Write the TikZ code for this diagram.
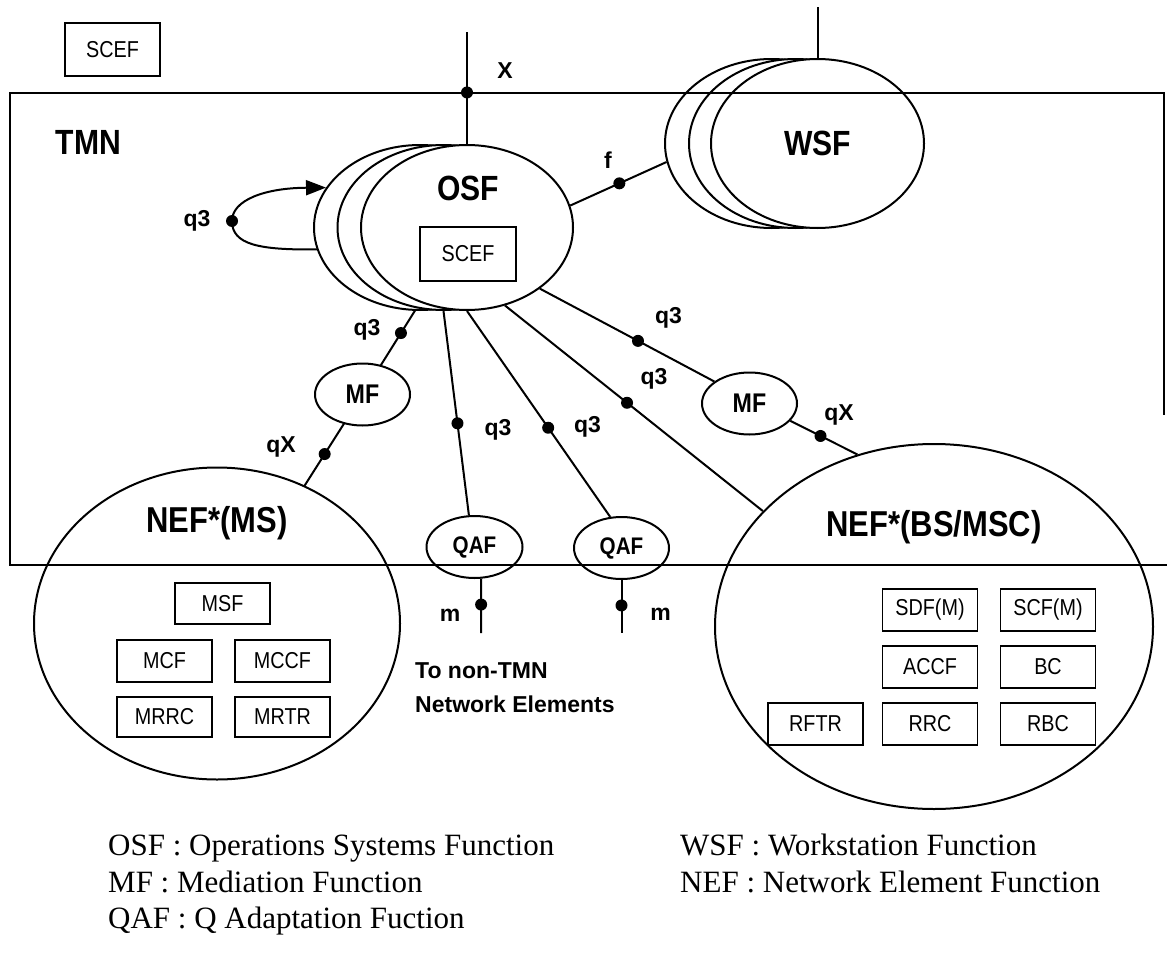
\documentclass[tikz,border=0pt]{standalone}
\usepackage{fontspec}
\setmainfont{Liberation Serif}
\newfontfamily\labfont[FakeStretch=0.86]{Liberation Sans}
\newfontfamily\labwide{Liberation Sans}
\usetikzlibrary{shapes.geometric,arrows.meta,backgrounds}
\tikzset{
  ln/.style={line width=2pt},
  oval/.style={ellipse, draw, line width=2pt, fill=white, inner sep=0pt},
  bigoval/.style={oval, minimum width=212pt, minimum height=165pt},
  wsfoval/.style={oval, minimum width=213pt, minimum height=169pt},
  smalloval/.style={oval, minimum width=95pt, minimum height=62pt},
  fbox/.style={draw, line width=1.6pt, fill=white, minimum width=95pt, minimum height=42pt, inner sep=0pt, font=\labfont\fontsize{23}{26}\selectfont},
  qdot/.style={circle, fill=black, inner sep=0pt, minimum size=12pt},
  lbl/.style={inner sep=0pt, font=\labwide\bfseries\fontsize{23}{26}\selectfont},
  bigfont/.style={font=\labfont\bfseries\fontsize{35}{40}\selectfont},
  nefont/.style={inner sep=0pt, font=\labfont\bfseries\fontsize{36}{40}\selectfont},
  midfont/.style={font=\labfont\bfseries\fontsize{27}{30}\selectfont},
  qafont/.style={font=\labfont\bfseries\fontsize{24}{28}\selectfont},
  legend/.style={inner sep=0pt, anchor=base west, font=\fontsize{31}{36}\selectfont},
}
\begin{document}
\begin{tikzpicture}[x=1pt, y=-1pt]
\useasboundingbox (0,0) rectangle (1167,953);

% outside SCEF
\node[fbox, minimum height=53pt] (scefout) at (112.5,49.5) {SCEF};

% OSF stack
\node[bigoval] (osf3) at (420,227.5) {};
\node[bigoval] (osf2) at (443.5,227.5) {};
\node[bigoval] (osf) at (467,227.5) {};
\node[bigfont, inner sep=0pt] (osflbl) at (468,188) {OSF};
\node[fbox, minimum width=96pt, minimum height=54pt] (scefin) at (468,254) {SCEF};

% WSF stack
\node[wsfoval] (wsf3) at (771.5,143.5) {};
\node[wsfoval] (wsf2) at (795.5,143.5) {};
\node[wsfoval, bigfont] (wsf) at (817.5,143.5) {WSF};

% MF, QAF
\node[smalloval, midfont] (mf1) at (362.5,394.5) {MF};
\node[smalloval, midfont] (mf2) at (749.5,403.5) {MF};
\node[smalloval, qafont, minimum width=96pt] (qaf1) at (474.5,547) {QAF};
\node[smalloval, qafont] (qaf2) at (621.5,548) {QAF};

% NEF
\node[oval, minimum width=366pt, minimum height=312pt] (nefms) at (217,623.5) {};
\node[oval, minimum width=438pt, minimum height=365pt] (nefbs) at (934,626.5) {};
\node[nefont] (nefmslbl) at (217,523) {NEF*(MS)};
\node[nefont] (nefbslbl) at (934,527) {NEF*(BS/MSC)};

\node[fbox, minimum height=41pt] (msf) at (222.5,603.5) {MSF};
\node[fbox] (mcf) at (164.5,661) {MCF};
\node[fbox] (mccf) at (282.5,661) {MCCF};
\node[fbox, minimum height=40pt] (mrrc) at (164.5,717) {MRRC};
\node[fbox, minimum height=40pt] (mrtr) at (282.5,717) {MRTR};

\node[fbox] (sdfm) at (930,610) {SDF(M)};
\node[fbox] (scfm) at (1048,610) {SCF(M)};
\node[fbox] (accf) at (930,667) {ACCF};
\node[fbox] (bc) at (1048,667) {BC};
\node[fbox] (rftr) at (815.5,724) {RFTR};
\node[fbox] (rrc) at (930,724) {RRC};
\node[fbox] (rbc) at (1048,724) {RBC};

% free ends
\coordinate (xtop) at (467,32);
\coordinate (wtop) at (817.5,7);
\coordinate (mb1) at (481,633);
\coordinate (mb2) at (621.5,633);
\coordinate (loopdot) at (232,221);

% connectors behind the shapes
\begin{scope}[on background layer]
\draw[ln] (osf.center) -- (mf1.center) node[qdot, pos=0.632] (d1) {};
\draw[ln] (mf1.center) -- (nefms.center) node[qdot, pos=0.26] (d2) {};
\end{scope}
\draw[ln] (osf2.south) -- (qaf1.100) node[qdot, pos=0.55] (d3) {};
\draw[ln] (osf.south) -- (qaf2.110) node[qdot, pos=0.567] (d4) {};
\draw[ln] (osf.296) -- (nefbs.146) node[qdot, pos=0.473] (d5) {};
\draw[ln] (osf.320) -- (mf2.148) node[qdot, pos=0.5625] (d6) {};
\draw[ln] (mf2.337) -- (nefbs.114) node[qdot, pos=0.45] (d7) {};
\draw[ln] (osf.12) -- (wsf3.190) node[qdot, pos=0.51] (d8) {};
\draw[ln] (wsf.north) -- (wtop);
\draw[ln] (qaf1.282) -- (mb1) node[qdot, pos=0.476] (d9) {};
\draw[ln] (qaf2.south) -- (mb2) node[qdot, pos=0.48] (d10) {};

% self loop
\draw[ln, -{Triangle[length=20pt,width=15pt]}] (osf3.192) .. controls (260,250) and (232,245) .. (loopdot) .. controls (232,200) and (265,188) .. (osf3.157);
\node[qdot] (d0) at (loopdot) {};

% TMN domain
\draw[line width=1.6pt] (1167,565) -- (10,565) -- (10,93) -- (1164,93) -- (1164,415);
\node[bigfont, inner sep=0pt] (tmnlbl) at (88.5,142.5) {TMN};

% X reference point
\draw[ln] (osf.north) -- (xtop) node[qdot, pos=0.46] (dx) {};

% labels
\node[lbl] (lx) at (505,71) {X};
\node[lbl] (lf) at (608,160) {f};
\node[lbl] (lq0) at (197,221) {q3};
\node[lbl] (lq1) at (367,330) {q3};
\node[lbl] (lqx1) at (281,447) {qX};
\node[lbl] (lq2) at (498,430) {q3};
\node[lbl] (lq3) at (587.5,427) {q3};
\node[lbl] (lq4) at (654,379) {q3};
\node[lbl] (lq5) at (668.5,318) {q3};
\node[lbl] (lqx2) at (839,415) {qX};
\node[lbl] (lm1) at (450,615) {m};
\node[lbl] (lm2) at (660.5,614) {m};
\node[lbl, anchor=base west] (nontmn1) at (415,678) {To non-TMN};
\node[lbl, anchor=base west] (nontmn2) at (415,712) {Network Elements};

% legend
\node[legend] (leg1) at (108,855) {OSF : Operations Systems Function};
\node[legend] (leg2) at (108,892) {MF : Mediation Function};
\node[legend] (leg3) at (108,928) {QAF : Q Adaptation Fuction};
\node[legend] (leg4) at (680,855) {WSF : Workstation Function};
\node[legend] (leg5) at (680,892) {NEF : Network Element Function};
\end{tikzpicture}
\end{document}
